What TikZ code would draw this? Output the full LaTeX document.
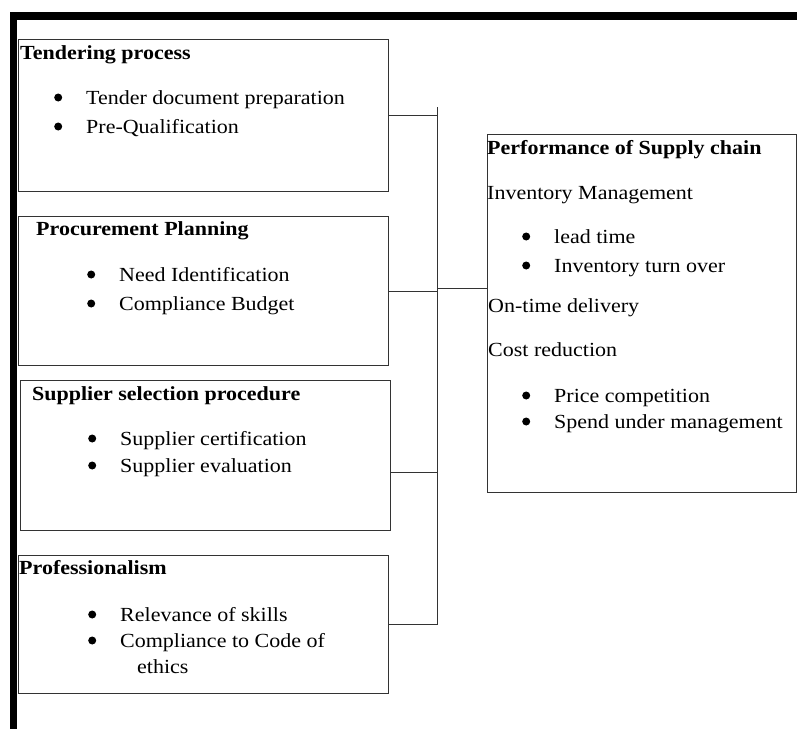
\documentclass[tikz,border=0pt]{standalone}
\usepackage{fontspec}
\setmainfont{Liberation Serif}[FakeStretch=1.1]
\usetikzlibrary{positioning}
\tikzset{
  box/.style={draw=black!80, line width=1pt, rectangle, anchor=north west, inner sep=0pt},
  txt/.style={anchor=base west, inner sep=0pt, font=\fontsize{20}{24}\selectfont},
  hd/.style={txt, font=\fontsize{20}{24}\selectfont\bfseries},
  link/.style={draw=black!80, line width=1pt}
}
\newcommand{\bul}{\makebox[32pt][l]{\tikz[baseline=-6.5pt]\fill (4pt,0pt) circle (4pt);}}

\begin{document}
\begin{tikzpicture}[x=1pt, y=-1pt]
\useasboundingbox (0,0) rectangle (797,729);
% frame
\fill[black] (10,12) rectangle (797,20);
\fill[black] (10,12) rectangle (17,729);

% left boxes
\node[box, minimum width=370pt, minimum height=152pt] (tend) at (18,39) {};
\node[box, minimum width=370pt, minimum height=149pt] (proc) at (18,216) {};
\node[box, minimum width=370pt, minimum height=150pt] (supp) at (20,380) {};
\node[box, minimum width=370pt, minimum height=138pt] (prof) at (18,555) {};

\node[hd] (tendh) at (20,59) {Tendering process};
\node[txt] (tend1) at (54,104) {\bul Tender document preparation};
\node[txt] (tend2) at (54,133) {\bul Pre-Qualification};

\node[hd] (proch) at (36,235) {Procurement Planning};
\node[txt] (proc1) at (87,281) {\bul Need Identification};
\node[txt] (proc2) at (87,310) {\bul Compliance Budget};

\node[hd] (supph) at (32,400) {Supplier selection procedure};
\node[txt] (supp1) at (88,445) {\bul Supplier certification};
\node[txt] (supp2) at (88,472) {\bul Supplier evaluation};

\node[hd] (profh) at (19,574) {Professionalism};
\node[txt] (prof1) at (88,621) {\bul Relevance of skills};
\node[txt] (prof2) at (88,647) {\bul Compliance to Code of};
\node[txt] (prof3) at (137,673) {ethics};

% right box
\node[box, minimum width=309pt, minimum height=358pt] (perf) at (487,134) {};
\node[hd] (perfh) at (487,154) {Performance of Supply chain};
\node[txt] (inv) at (487,199) {Inventory Management};
\node[txt] (inv1) at (522,243) {\bul lead time};
\node[txt] (inv2) at (522,272) {\bul Inventory turn over};
\node[txt] (ontime) at (488,312) {On-time delivery};
\node[txt] (cost) at (488,356) {Cost reduction};
\node[txt] (cost1) at (522,402) {\bul Price competition};
\node[txt] (cost2) at (522,428) {\bul Spend under management};

% connectors
\coordinate (bustop) at (437,107);
\coordinate (busbot) at (437,625);
\coordinate (j3) at (437,472);
\coordinate (jr) at (437,288);
\draw[link] (bustop) -- (busbot);
\draw[link] (tend.east) -- (tend.east -| bustop);
\draw[link] (proc.east) -- (proc.east -| bustop);
\draw[link] (supp.east |- j3) -- (j3);
\draw[link] (prof.east) -- (prof.east -| bustop);
\draw[link] (jr) -- (perf.west |- jr);
\end{tikzpicture}
\end{document}
